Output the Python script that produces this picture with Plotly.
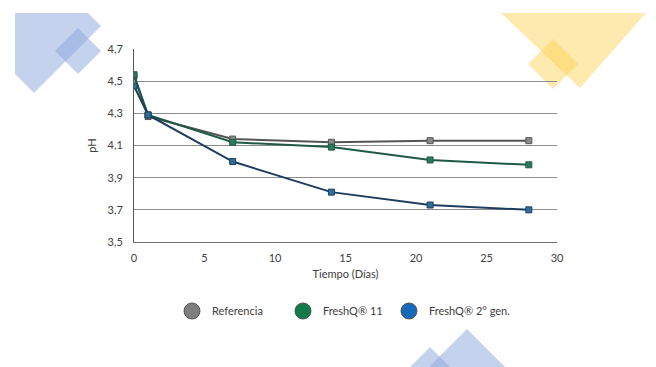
import plotly.graph_objects as go

dias = [0, 1, 7, 14, 21, 28]
referencia = [4.53, 4.28, 4.14, 4.12, 4.13, 4.13]
freshq11 = [4.54, 4.29, 4.12, 4.09, 4.01, 3.98]
freshq2gen = [4.47, 4.29, 4.00, 3.81, 3.73, 3.70]

y_ticks = [3.5, 3.7, 3.9, 4.1, 4.3, 4.5, 4.7]
x_ticks = [0, 5, 10, 15, 20, 25, 30]

W, H = 656, 367
ML, MR, MT, MB = 134, 99, 49, 125
PW, PH = W - ML - MR, H - MT - MB

def px(x):
    return (x - ML) / PW

def py(y):
    return (H - MB - y) / PH

def path(pts):
    return "M " + " L ".join(f"{px(a):.4f},{py(b):.4f}" for a, b in pts) + " Z"

FONT = "Lato"

fig = go.Figure()

series = [
    ("Referencia", referencia, "#555555", "#8a8a8a", "#7f7f7f", "legend"),
    ("FreshQ® 11", freshq11, "#1f5a45", "#2d7a5a", "#137a4c", "legend"),
    ("FreshQ® 2° gen.", freshq2gen, "#1e3d5d", "#2f6d9a", "#1668b8", "legend2"),
]

for name, vals, lc, mc, legc, leg in series:
    fig.add_trace(go.Scatter(
        x=dias, y=vals, mode="lines+markers", showlegend=False,
        line=dict(color=lc, width=2),
        marker=dict(symbol="square", size=6, color=mc, line=dict(color=lc, width=1)),
        name=name,
    ))

for name, vals, lc, mc, legc, leg in series:
    fig.add_trace(go.Scatter(
        x=[None], y=[None], mode="markers", name=name, showlegend=True, legend=leg,
        marker=dict(symbol="circle", size=16, color=legc, line=dict(color="#555555", width=1)),
    ))

blue = "rgba(140,166,222,0.5)"
yellow = "rgba(253,208,75,0.45)"
shapes = [
    dict(type="path", path=path([(15, 13), (88, 13), (101, 26), (34, 93), (15, 74)]),
         xref="paper", yref="paper", fillcolor=blue, line=dict(width=0), layer="below"),
    dict(type="path", path=path([(78, 28), (101, 51), (78, 74), (55, 51)]),
         xref="paper", yref="paper", fillcolor=blue, line=dict(width=0), layer="below"),
    dict(type="path", path=path([(501, 13), (646, 13), (580, 88)]),
         xref="paper", yref="paper", fillcolor=yellow, line=dict(width=0), layer="below"),
    dict(type="path", path=path([(553, 39), (578, 64), (553, 89), (528, 64)]),
         xref="paper", yref="paper", fillcolor=yellow, line=dict(width=0), layer="below"),
    dict(type="path", path=path([(467, 329), (505, 367), (429, 367)]),
         xref="paper", yref="paper", fillcolor=blue, line=dict(width=0), layer="below"),
    dict(type="path", path=path([(430, 347), (450, 367), (410, 367)]),
         xref="paper", yref="paper", fillcolor=blue, line=dict(width=0), layer="below"),
]

legfont = dict(size=11, color="#404040")

fig.update_layout(
    width=W, height=H,
    margin=dict(l=ML, r=MR, t=MT, b=MB),
    paper_bgcolor="white", plot_bgcolor="rgba(0,0,0,0)",
    separators=",.",
    font=dict(family=FONT, size=11, color="#404040"),
    shapes=shapes,
    xaxis=dict(range=[0, 30], tickvals=x_ticks, showgrid=False, zeroline=False,
               showline=True, linecolor="#6f6f6f", linewidth=1,
               ticks="", ticklabelstandoff=6,
               title=dict(text="Tiempo (Días)", font=dict(size=11, color="#404040"), standoff=7)),
    yaxis=dict(range=[3.5, 4.7], tickvals=y_ticks, tickformat=".1f",
               showgrid=True, gridcolor="#8c8c8c", gridwidth=1, zeroline=False,
               showline=True, linecolor="#595959", linewidth=1, ticks="",
               ticklabelstandoff=8,
               title=dict(text="pH", font=dict(size=11, color="#404040"), standoff=8)),
    legend=dict(orientation="h", x=px(172), xanchor="left", y=py(311), yanchor="middle",
                font=legfont, entrywidth=66, entrywidthmode="pixels",
                bgcolor="rgba(0,0,0,0)"),
    legend2=dict(orientation="h", x=px(389), xanchor="left", y=py(311), yanchor="middle",
                 font=legfont, bgcolor="rgba(0,0,0,0)"),
)

fig.write_html("out.html", config={"displayModeBar": False},
               post_script="document.body.style.margin='0';document.body.style.overflow='hidden';")
